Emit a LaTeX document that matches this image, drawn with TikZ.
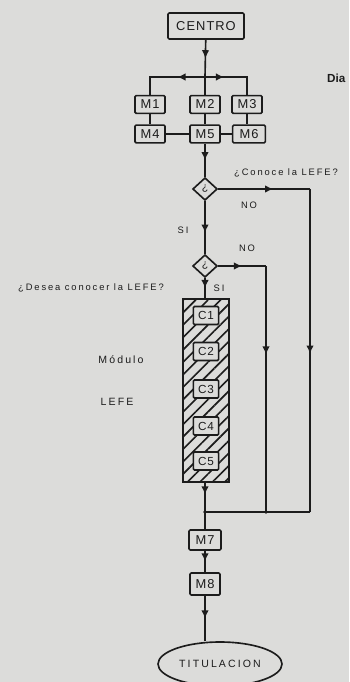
\documentclass[tikz,border=0pt]{standalone}
\usepackage{fontspec}
\setmainfont{Liberation Sans}
\newfontfamily\rotulo[LetterSpace=8]{Liberation Sans}
\newfontfamily\etiqueta[LetterSpace=20]{Liberation Sans}
\usepackage{xcolor}
\definecolor{papel}{HTML}{DCDCDA}
\definecolor{tinta}{HTML}{1C1C1C}
\usepackage{tikz}
\usetikzlibrary{
  shapes.geometric,
  arrows.meta,
  positioning,
  decorations.markings,
  patterns.meta
}

\begin{document}
\begin{tikzpicture}[
    x=0.3mm, y=-0.3mm,
    linea/.style={
      draw=tinta,
      line width=1.4pt
    },
    marca/.style={
      postaction={decorate},
      decoration={markings,
        mark=at position #1 with {\arrow[tinta]{Latex[length=7pt,width=6.5pt]}}}
    },
    marca/.default=0.5,
    caja/.style={
      rectangle,
      draw=tinta,
      line width=1.4pt,
      rounded corners=1pt,
      fill=papel,
      inner sep=0pt,
      text=tinta,
      font=\rotulo\fontsize{11}{11}\selectfont
    },
    modulo/.style={
      caja,
      minimum width=9mm,
      minimum height=5.3mm
    },
    capitulo/.style={
      caja,
      minimum width=7.6mm,
      minimum height=5.4mm,
      font=\rotulo\fontsize{10}{10}\selectfont
    },
    pregunta/.style={
      diamond,
      draw=tinta,
      line width=1.4pt,
      fill=papel,
      inner sep=0pt,
      minimum width=7.4mm,
      minimum height=6.8mm,
      text=tinta,
      font=\fontsize{9}{9}\selectfont
    },
    texto/.style={
      text=tinta,
      inner sep=0pt,
      font=\etiqueta\fontsize{8}{8}\selectfont
    }
  ]
    % Paper and frame
    \fill[papel] (0,0) rectangle (349,682);
    \useasboundingbox (0,0) rectangle (349,682);
    \clip (0,0) rectangle (349,682);

    % Top block
    \node[caja, minimum width=22.8mm, minimum height=7.8mm] (centro) at (206,26) {CENTRO};
    \coordinate (rama) at (205,77);

    \node[modulo] (m1) at (150,104.5) {M1};
    \node[modulo] (m2) at (205,104.5) {M2};
    \node[modulo] (m3) at (247,104.5) {M3};
    \node[modulo] (m4) at (150,134)   {M4};
    \node[modulo] (m5) at (205,134)   {M5};
    \node[modulo, minimum width=9.8mm] (m6) at (249,134) {M6};

    % Questions
    \node[pregunta] (d1) at (205,189) {¿};
    \node[pregunta] (d2) at (205,266) {¿};
    \coordinate (derA) at (310,189);
    \coordinate (derB) at (266,266);

    % LEFE module
    \node[rectangle, draw=tinta, line width=1.4pt,
          pattern={Lines[angle=45, distance=7.5pt, line width=1.4pt]}, pattern color=tinta,
          minimum width=13.8mm, minimum height=54.9mm, inner sep=0pt]
      (lefe) at (206,390.5) {};
    \node[capitulo] (c1) at (206,315.5) {C1};
    \node[capitulo] (c2) at (206,351.5) {C2};
    \node[capitulo] (c3) at (206,389)   {C3};
    \node[capitulo] (c4) at (206,426)   {C4};
    \node[capitulo] (c5) at (206,461)   {C5};

    % Bottom block
    \coordinate (union) at (205,512);
    \node[modulo, minimum width=9.6mm, minimum height=6mm] (m7) at (205,540) {M7};
    \node[modulo, minimum width=9mm, minimum height=6.6mm] (m8) at (205,584) {M8};
    \node[ellipse, draw=tinta, line width=1.4pt, fill=papel, inner sep=0pt,
          minimum width=37.2mm, minimum height=13.2mm, text=tinta,
          font=\etiqueta\fontsize{9}{9}\selectfont]
      (titulo) at (220,664) {TITULACION};

    % Connectors
    \draw[linea, marca] (centro) -- (rama);
    \draw[linea, marca=.38] (rama) -- (m1 |- rama) -- (m1);
    \draw[linea, marca=.32] (rama) -- (m3 |- rama) -- (m3);
    \draw[linea] (rama) -- (m2);
    \draw[linea] (m1) -- (m4);
    \draw[linea] (m2) -- (m5);
    \draw[linea] (m3) -- (m3 |- m6.north);
    \draw[linea] (m4) -- (m5);
    \draw[linea] (m5) -- (m6);
    \draw[linea, marca] (m5) -- (d1);

    \draw[linea, marca=.6] (d1) -- (derA);
    \draw[linea, marca=.51] (derA) -- (derA |- union);
    \draw[linea] (derA |- union) -- (union);
    \draw[linea, marca=.6] (d1) -- (d2);
    \draw[linea, marca] (d2) -- (derB);
    \draw[linea, marca=.36] (derB) -- (derB |- union);
    \draw[linea, marca] (d2) -- (d2 |- lefe.north);

    \draw[linea, marca=.4] (lefe.south -| union) -- (union);
    \draw[linea] (union) -- (m7);
    \draw[linea, marca] (m7) -- (m8);
    \draw[linea, marca] (m8) -- (m8 |- titulo.north);
    \fill[tinta] (union) circle (1.6pt);
    \fill[tinta] (derB |- union) circle (1.6pt);
    \fill[tinta] (rama) circle (1.6pt);

    % Labels
    \node[texto, anchor=west] (t-conoce) at (234,173) {¿Conoce la LEFE?};
    \node[texto] (t-no1) at (249,205) {NO};
    \node[texto] (t-si1) at (183,230) {SI};
    \node[texto] (t-no2) at (247,248) {NO};
    \node[texto] (t-si2) at (219,288) {SI};
    \node[texto] (t-desea) at (91,288) {¿Desea conocer la LEFE?};
    \node[texto, font=\etiqueta\fontsize{9}{9}\selectfont] (t-modulo) at (121,360) {Módulo};
    \node[texto, font=\etiqueta\fontsize{9}{9}\selectfont] (t-lefe) at (117,402) {LEFE};
    \node[texto, anchor=west, font=\bfseries\fontsize{10}{10}\selectfont] (t-dia) at (327,78) {Dia};
  \end{tikzpicture}
\end{document}
